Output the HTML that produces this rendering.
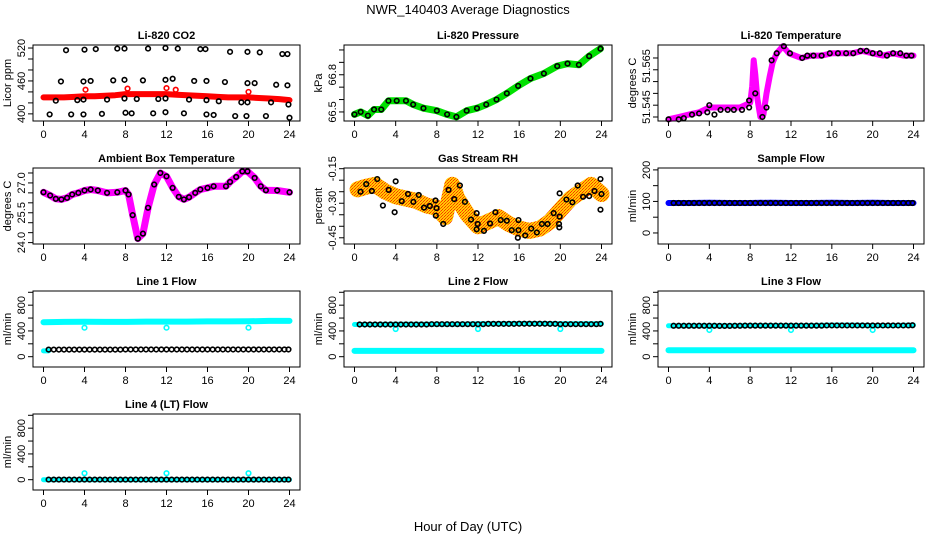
<!DOCTYPE html>
<html><head><meta charset="utf-8"><style>
body{margin:0;background:#fff;}
svg{display:block;font-family:"Liberation Sans",Arial,sans-serif;}
</style></head><body>
<svg id="chart" width="936" height="540" viewBox="0 0 936 540" xmlns="http://www.w3.org/2000/svg">
<defs>
<pattern id="chk" width="3" height="3" patternUnits="userSpaceOnUse"><rect width="3" height="3" fill="#ffcc00"/><rect width="1" height="1" fill="#ff3000"/><rect x="2" y="1" width="1" height="1" fill="#ff6000"/><rect x="1" y="2" width="1" height="1" fill="#ff3000"/></pattern>
</defs>
<text x="468" y="14" font-size="13" text-anchor="middle">NWR_140403  Average Diagnostics</text>
<text x="468" y="531" font-size="13" text-anchor="middle">Hour of Day (UTC)</text>
</svg>
<script>
// ---------- data ----------
const xTicks=[0,4,8,12,16,20,24];
// CO2
const co2BlackH=[2.2,4.0,5.1,7.2,7.9,10.2,11.9,13.1,15.3,15.8,18.2,19.9,21.1,23.3,23.8,1.7,3.9,4.6,6.8,7.9,9.7,11.9,12.6,14.7,15.9,17.7,19.9,20.6,22.7,23.8,1.2,3.3,3.9,6.2,7.9,9.1,11.2,11.9,14.2,15.9,17.1,19.3,19.9,22.2,23.9,0.6,2.7,3.9,5.7,8.0,8.6,10.7,11.9,13.7,15.9,16.6,18.7,19.8,21.7,24];
const co2BlackV=[516,517,518,519,519,519,520,519,518,518,513,513,512,509,509,459,459,460,461,462,461,462,464,460,460,458,456,456,453,452,424,425,426,426,428,427,427,428,426,425,423,421,421,421,417,399,399,399,400,402,401,401,403,401,399,398,396,396,396,393];
const co2RedH=[0,1,2,3,4,5,6,7,8,9,10,11,12,13,14,15,16,17,18,19,20,21,22,23,24];
const co2RedV=[430,430,430,431,432,432,433,434,436,436,436,436,436,435,434,433,432,431,430,430,430,429,428,427,425];
const co2RedOutH=[4.1,8.2,12.0,12.9,20];
const co2RedOutV=[444,446,447,444,440];
// Pressure
const presH=[0,0.6,1.3,1.9,2.6,3.3,4.1,5.0,5.7,6.7,8.0,9.0,9.9,10.9,11.9,12.8,13.8,14.8,15.9,17.1,18.4,19.7,20.7,21.8,22.8,23.9];
const presV=[66.48,66.5,66.47,66.52,66.52,66.59,66.59,66.59,66.56,66.53,66.51,66.48,66.46,66.51,66.53,66.56,66.6,66.65,66.71,66.77,66.81,66.87,66.89,66.88,66.95,67.01];
// Li-820 temperature
const ltBandH=[0,1,2,3,4,5,6,7,8,8.2,8.35,8.5,8.7,9.0,9.3,9.6,9.9,10.2,10.6,11.2,11.8,13,14,15,16,17,18,19,20,21,22,23,24];
const ltBandV=[51.539,51.540,51.541,51.542,51.544,51.544,51.544,51.544,51.546,51.553,51.564,51.558,51.548,51.540,51.541,51.550,51.557,51.563,51.567,51.570,51.567,51.565,51.566,51.566,51.567,51.567,51.567,51.568,51.567,51.566,51.567,51.566,51.566];
const ltPtH=[0,1,1.5,2.3,3.0,3.8,4.0,4.5,5.1,5.8,6.4,7.2,7.9,7.9,8.5,9.2,9.6,10.1,10.6,11.3,11.9,13.1,13.6,14.2,15.0,15.8,16.6,17.4,18.1,18.8,19.4,20.0,20.7,21.4,22.0,22.7,23.3,23.8];
const ltPtV=[51.539,51.539,51.5395,51.541,51.5415,51.542,51.545,51.541,51.543,51.543,51.543,51.543,51.544,51.547,51.550,51.540,51.544,51.564,51.567,51.570,51.567,51.565,51.566,51.566,51.566,51.567,51.567,51.567,51.567,51.568,51.568,51.567,51.567,51.566,51.567,51.567,51.566,51.566];
// Ambient temperature
const ambH=[0,0.65,1.2,1.75,2.3,2.8,3.4,4,4.6,5.3,6.2,7.2,8,8.3,8.7,9.2,9.7,10.2,10.8,11.4,12,12.6,13.2,13.7,14.2,14.8,15.3,16,16.6,17.8,18.2,18.8,19.4,19.9,20.6,21.2,21.7,22.8,24];
const ambV=[26.53,26.37,26.2,26.17,26.25,26.42,26.5,26.62,26.67,26.62,26.5,26.53,26.62,26.42,25.38,24.2,24.45,25.75,26.92,27.5,27.33,26.75,26.3,26.17,26.28,26.5,26.67,26.75,26.83,26.83,27.05,27.3,27.58,27.58,27.25,26.83,26.63,26.62,26.53];
// Gas stream RH
const rhCloudH=[0.3,1,2,3,4,5,6,7,8,8.8,9.5,10,11,12,13,14,15,16,17,18,19,20,21,22,23,24];
const rhCloudV=[-0.24,-0.23,-0.22,-0.25,-0.27,-0.28,-0.29,-0.31,-0.32,-0.36,-0.22,-0.28,-0.35,-0.40,-0.38,-0.36,-0.39,-0.41,-0.42,-0.41,-0.38,-0.33,-0.28,-0.25,-0.22,-0.26];
const rhPtH=[0.59,1.14,1.69,2.21,2.76,3.32,3.9,4.0,4.59,5.2,5.72,6.24,6.76,7.32,7.87,7.9,7.97,8.62,9.14,9.69,10.24,10.73,11.32,11.87,11.87,11.97,12.58,13.17,13.69,14.21,14.8,15.28,15.93,15.93,15.87,16.59,17.17,17.72,18.21,18.76,19.35,19.87,19.9,19.93,19.93,20.59,21.17,21.69,22.21,22.8,23.32,23.9,24.0,23.9];
const rhPtV=[-0.25,-0.217,-0.247,-0.195,-0.31,-0.242,-0.339,-0.205,-0.291,-0.26,-0.294,-0.264,-0.319,-0.312,-0.288,-0.354,-0.321,-0.39,-0.242,-0.282,-0.223,-0.294,-0.371,-0.343,-0.413,-0.39,-0.42,-0.388,-0.339,-0.373,-0.376,-0.417,-0.373,-0.417,-0.45,-0.44,-0.41,-0.427,-0.39,-0.39,-0.343,-0.39,-0.405,-0.257,-0.358,-0.284,-0.296,-0.223,-0.272,-0.269,-0.247,-0.195,-0.26,-0.328];
// Flows
const bandH=[0,2,4,6,8,10,12,14,16,18,20,22,24];
const ptH=[0.5,1,1.5,2,2.5,3,3.5,4,4.5,5,5.5,6,6.5,7,7.5,8,8.5,9,9.5,10,10.5,11,11.5,12,12.5,13,13.5,14,14.5,15,15.5,16,16.5,17,17.5,18,18.5,19,19.5,20,20.5,21,21.5,22,22.5,23,23.5,23.9];
const outH=[4,12,20];
const sampleBand=[95,95,96,95,95,96,95,95,96,95,96,95,95];
const samplePts=[95,95,95,95,95,95,95,95,95,95,95,95,95,95,95,95,95,95,95,95,95,95,95,95,95,95,95,95,95,95,95,95,95,95,95,95,95,95,95,95,95,95,95,95,95,95,95,95];
const l1Top=[535,540,542,540,540,545,545,545,548,548,550,555,555];
const l1Low=[90,90,90,90,90,90,90,90,90,90,90,90,90];
const l1Pts=[110,110,110,110,110,110,110,110,110,110,110,110,110,110,110,112,112,112,112,112,112,112,112,112,112,112,112,112,112,112,112,112,112,112,112,112,112,112,112,112,112,112,112,112,112,112,112,112];
const l1Out=[450,450,450];
const l2Top=[500,500,505,505,505,505,510,510,515,515,510,510,510];
const l2Low=[90,90,90,90,90,90,90,90,90,90,90,90,90];
const l2Pts=[500,500,500,500,500,500,500,500,500,500,500,500,500,500,505,505,505,505,505,505,505,505,505,505,505,510,510,510,510,510,510,512,512,512,512,512,512,510,510,505,505,505,505,505,505,505,505,510];
const l2Out=[430,430,430];
const l3Top=[480,480,480,480,485,485,485,485,490,490,485,485,490];
const l3Low=[100,100,100,100,100,100,100,100,100,100,100,100,100];
const l3Pts=[480,480,480,480,480,480,480,480,480,478,478,478,480,480,482,482,482,482,482,482,482,482,482,482,482,482,482,482,482,482,485,485,485,485,485,485,485,485,485,485,485,485,485,485,485,485,485,488];
const l3Out=[415,415,415];
const l4Top=[0,0,0,0,0,0,0,0,0,0,0,0,0];
const l4Pts=[2,2,2,2,2,2,2,2,2,2,2,2,2,2,2,2,2,2,2,2,2,2,2,2,2,2,2,2,2,2,2,2,2,2,2,2,2,2,2,2,2,2,2,2,2,2,2,2];
const l4Out=[100,100,100];

// ---------- drawing ----------
const NS="http://www.w3.org/2000/svg";
const svg=document.getElementById('chart');
const cols=[{l:33,r:300},{l:344,r:612},{l:658,r:924}];
const rowsTop=[45,168,291,414];
const PH=76;
function el(tag,attrs,parent){const e=document.createElementNS(NS,tag);for(const k in attrs)e.setAttribute(k,attrs[k]);(parent||svg).appendChild(e);return e;}

function panel(c,r,ymin,ymax,yticks,ylabels,title,ytitle,name){
  const L=cols[c].l,R=cols[c].r,T=rowsTop[r],B=T+PH;
  const g=el('g',{});
  
  
  const x0=L+10.5,x1=R-10.5;
  const sx=h=>x0+(h/24)*(x1-x0);
  const sy=v=>B-(v-ymin)/(ymax-ymin)*PH;
  const t=el('text',{x:(L+R)/2,y:T-6,'font-size':11,'font-weight':'bold','text-anchor':'middle'},g);
  t.textContent=title;
  
  
  const xa=el('g',{},g);
  
  
  el('line',{x1:sx(0),x2:sx(24),y1:B,y2:B,stroke:'#000'},xa);
  xTicks.forEach(h=>{
    el('line',{x1:sx(h),x2:sx(h),y1:B,y2:B+5,stroke:'#000'},xa);
    const tx=el('text',{x:sx(h),y:B+17,'font-size':11,'text-anchor':'middle'},xa);
    tx.textContent=h;
  });
  const ya=el('g',{},g);
  
  
  yticks.forEach(v=>{el('line',{x1:L,x2:L-5,y1:sy(v),y2:sy(v),stroke:'#000'},ya);});
  ylabels.forEach(p=>{
    const y=sy(p[0]);
    const tx=el('text',{x:0,y:0,'font-size':11,'text-anchor':'middle',transform:`translate(${L-8},${y}) rotate(-90)`},ya);
    tx.textContent=p[1];
  });
  const yt=el('text',{x:0,y:0,'font-size':11,'text-anchor':'middle',transform:`translate(${L-22},${(T+B)/2}) rotate(-90)`},g);
  yt.textContent=ytitle;
  
  
  const plot=el('g',{},g);
  
  
  const box=el('rect',{x:L,y:T,width:R-L,height:PH,fill:'none',stroke:'#000','stroke-width':1},g);
  
  
  return {sx,sy,plot};
}
function band(p,hs,vs,color,w,name){
  const pts=hs.map((h,i)=>p.sx(h).toFixed(1)+','+p.sy(vs[i]).toFixed(1)).join(' ');
  const pl=el('polyline',{points:pts,fill:'none',stroke:color,'stroke-width':w,'stroke-linejoin':'round','stroke-linecap':'round'},p.plot);
  
  
}
function pts(p,hs,vs,color,name,r){
  const g=el('g',{},p.plot);
  
  
  hs.forEach((h,i)=>{
    const ci=el('circle',{cx:p.sx(h),cy:p.sy(vs[i]),r:r||2.3,fill:'none',stroke:color,'stroke-width':1.6},g);
    
    
  });
}
function rng(a,b,s){const o=[];for(let v=a;v<=b+1e-9;v+=s)o.push(+v.toFixed(4));return o;}

// Panel 1: CO2
let p=panel(0,0,387,525.5,rng(400,520,20),[[400,'400'],[460,'460'],[520,'520']],'Li-820 CO2','Licor ppm','co2');
band(p,co2RedH,co2RedV,'#ff0000',6,'co2-red-series');
pts(p,co2RedOutH,co2RedOutV,'#ff0000','co2-red-outliers');
pts(p,co2BlackH,co2BlackV,'#000','co2-black-series');
// Panel 2: pressure
p=panel(1,0,66.427,67.04,rng(66.5,67.0,0.1),[[66.5,'66.5'],[66.8,'66.8']],'Li-820 Pressure','kPa','pressure');
band(p,presH,presV,'#00e000',7,'pressure-green-series');
pts(p,presH,presV,'#000','pressure-black-series');
// Panel 3: Li-820 temperature
p=panel(2,0,51.5383,51.5705,rng(51.540,51.565,0.005),[[51.5442,'51.545'],[51.5616,'51.565']],'Li-820 Temperature','degrees C','li820-temp');
band(p,ltBandH,ltBandV,'#ff00ff',6,'li820-temp-magenta-series');
pts(p,ltPtH,ltPtV,'#000','li820-temp-black-series');
// Panel 4: ambient
p=panel(0,1,23.93,27.75,rng(24,27.5,0.5),[[24,'24.0'],[25.5,'25.5'],[27,'27.0']],'Ambient Box Temperature','degrees C','ambient-temp');
band(p,ambH,ambV,'#ff00ff',7,'ambient-temp-magenta-series');
pts(p,ambH,ambV,'#000','ambient-temp-black-series');
// Panel 5: RH
p=panel(1,1,-0.477,-0.147,rng(-0.45,-0.15,0.05),[[-0.45,'-0.45'],[-0.30,'-0.30'],[-0.15,'-0.15']],'Gas Stream RH','percent','gas-rh');
band(p,rhCloudH,rhCloudV,'url(#chk)',16,'gas-rh-orange-series');
pts(p,rhPtH,rhPtV,'#000','gas-rh-black-series');
// Panel 6: sample flow
p=panel(2,1,-35,206,rng(0,200,50),[[0,'0'],[100,'100'],[200,'200']],'Sample Flow','ml/min','sample-flow');
band(p,bandH,sampleBand,'#0000ff',6,'sample-flow-blue-series');
pts(p,ptH,samplePts,'#000','sample-flow-black-series');
// Line flows
const fl=[-160,1020],fticks=rng(0,1000,200),flab=[[0,'0'],[400,'400'],[800,'800']];
p=panel(0,2,fl[0],fl[1],fticks,flab,'Line 1 Flow','ml/min','line1-flow');
band(p,bandH,l1Top,'#00ffff',6,'line1-cyan-series');
band(p,[0,0.5],[l1Low[0],l1Low[1]],'#00ffff',5,'line1-cyan-low-series');
pts(p,outH,l1Out,'#00ffff','line1-cyan-outliers');
pts(p,ptH,l1Pts,'#000','line1-black-series');
p=panel(1,2,fl[0],fl[1],fticks,flab,'Line 2 Flow','ml/min','line2-flow');
band(p,bandH,l2Low,'#00ffff',6,'line2-cyan-low-series');
band(p,bandH,l2Top,'#00ffff',5,'line2-cyan-series');
pts(p,outH,l2Out,'#00ffff','line2-cyan-outliers');
pts(p,ptH,l2Pts,'#000','line2-black-series');
p=panel(2,2,fl[0],fl[1],fticks,flab,'Line 3 Flow','ml/min','line3-flow');
band(p,bandH,l3Low,'#00ffff',6,'line3-cyan-low-series');
band(p,bandH,l3Top,'#00ffff',5,'line3-cyan-series');
pts(p,outH,l3Out,'#00ffff','line3-cyan-outliers');
pts(p,ptH,l3Pts,'#000','line3-black-series');
p=panel(0,3,fl[0],fl[1],fticks,flab,'Line 4 (LT) Flow','ml/min','line4-flow');
band(p,bandH,l4Top,'#00ffff',5,'line4-cyan-series');
pts(p,outH,l4Out,'#00ffff','line4-cyan-outliers');
pts(p,ptH,l4Pts,'#000','line4-black-series');
</script>
</body></html>
